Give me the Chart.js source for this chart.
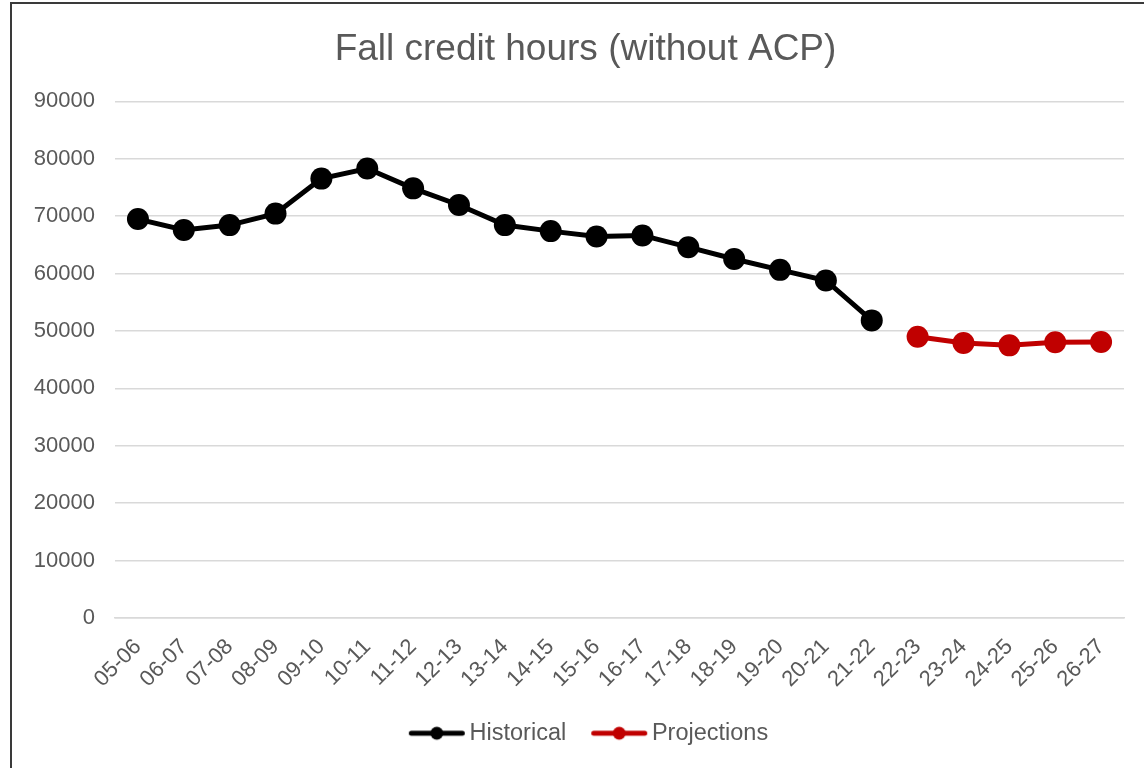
<!DOCTYPE html>
<html>
<head>
<meta charset="utf-8">
<script src="https://cdn.jsdelivr.net/npm/chart.js@4.4.1/dist/chart.umd.min.js"></script>
<style>
  html, body { margin: 0; padding: 0; background: #fff; }
  #wrap { position: relative; width: 1144px; height: 768px; overflow: hidden; }
  #frame { position: absolute; left: 10px; top: 2px; width: 1150px; height: 780px; border: 2px solid #3a3a3a; box-sizing: border-box; pointer-events: none; }
  canvas { position: absolute; left: 0; top: 0; }
</style>
</head>
<body>
<div id="wrap">
  <canvas id="c" width="1144" height="768"></canvas>
  <div id="frame"></div>
</div>
<script>
const categories = ["05-06","06-07","07-08","08-09","09-10","10-11","11-12","12-13","13-14","14-15","15-16","16-17","17-18","18-19","19-20","20-21","21-22","22-23","23-24","24-25","25-26","26-27"];
const historical = [69500, 67600, 68450, 70450, 76550, 78300, 74850, 71950, 68450, 67400, 66450, 66650, 64600, 62550, 60650, 58800, 51850];
const projections = [49000, 47900, 47500, 48050, 48100];
const yTicks = [0, 10000, 20000, 30000, 40000, 50000, 60000, 70000, 80000, 90000];

const FONT = "'Liberation Sans', Arial, sans-serif";
const TEXT = '#595959';
const BLACK = '#000000';
const RED = '#C00000';

function legendMarker(color) {
  const c = document.createElement('canvas');
  c.width = 60; c.height = 16;
  const g = c.getContext('2d');
  g.strokeStyle = color; g.lineWidth = 5; g.lineCap = 'round';
  g.beginPath(); g.moveTo(4.5, 8); g.lineTo(55.5, 8); g.stroke();
  g.fillStyle = color;
  g.beginPath(); g.arc(30, 8, 6.5, 0, Math.PI * 2); g.fill();
  return c;
}
const markers = [legendMarker(BLACK), legendMarker(RED)];

const histData = historical.slice();
const projData = new Array(historical.length).fill(null).concat(projections);

// Shift the title and legend blocks horizontally to match the reference placement
const blockShift = {
  id: 'blockShift',
  afterLayout(chart) {
    if (chart.titleBlock) { chart.titleBlock.left += 18.5; chart.titleBlock.right += 18.5; }
    if (chart.legend) { chart.legend.left += 25; chart.legend.right += 25; }
  }
};

new Chart(document.getElementById('c'), {
  type: 'line',
  data: {
    labels: categories,
    datasets: [
      { label: 'Historical', data: histData, borderColor: BLACK, backgroundColor: BLACK,
        borderWidth: 5, pointRadius: 11, pointBackgroundColor: BLACK, pointBorderWidth: 0, tension: 0 },
      { label: 'Projections', data: projData, borderColor: RED, backgroundColor: RED,
        borderWidth: 5, pointRadius: 11, pointBackgroundColor: RED, pointBorderWidth: 0, tension: 0 }
    ]
  },
  plugins: [blockShift],
  options: {
    responsive: false,
    animation: false,
    devicePixelRatio: 1,
    layout: { padding: { left: 10, right: 20, top: 0, bottom: 13 } },
    plugins: {
      tooltip: { enabled: false },
      title: {
        display: true,
        text: 'Fall credit hours (without ACP)',
        color: TEXT,
        font: { family: FONT, size: 37, weight: 'normal' },
        padding: { top: 27.5, bottom: 29.5 }
      },
      legend: {
        position: 'bottom',
        labels: {
          color: TEXT,
          font: { family: FONT, size: 23.5 },
          usePointStyle: true,
          pointStyleWidth: 42,
          boxHeight: 16,
          padding: 32,
          generateLabels: (chart) => chart.data.datasets.map((ds, i) => ({
            text: ds.label, fillStyle: ds.borderColor, strokeStyle: ds.borderColor,
            lineWidth: 0, pointStyle: markers[i], datasetIndex: i, hidden: false, fontColor: TEXT
          }))
        }
      }
    },
    scales: {
      x: {
        offset: true,
        grid: { display: false, drawTicks: false, offset: true },
        border: { display: true, color: '#d9d9d9', width: 1.5 },
        ticks: { color: TEXT, font: { family: FONT, size: 22 }, minRotation: 45, maxRotation: 45, padding: 16, autoSkip: false },
        afterFit: (s) => { s.height = 71.5; }
      },
      y: {
        min: 0, max: 90000,
        afterBuildTicks: (s) => { s.ticks = yTicks.map(v => ({ value: v })); },
        grid: { color: '#d9d9d9', lineWidth: 1.5, drawTicks: false },
        border: { display: false },
        ticks: { color: TEXT, font: { family: FONT, size: 22 }, padding: 20, callback: (v) => String(v) },
        afterFit: (s) => { s.width = 105; }
      }
    }
  }
});
</script>
</body>
</html>
